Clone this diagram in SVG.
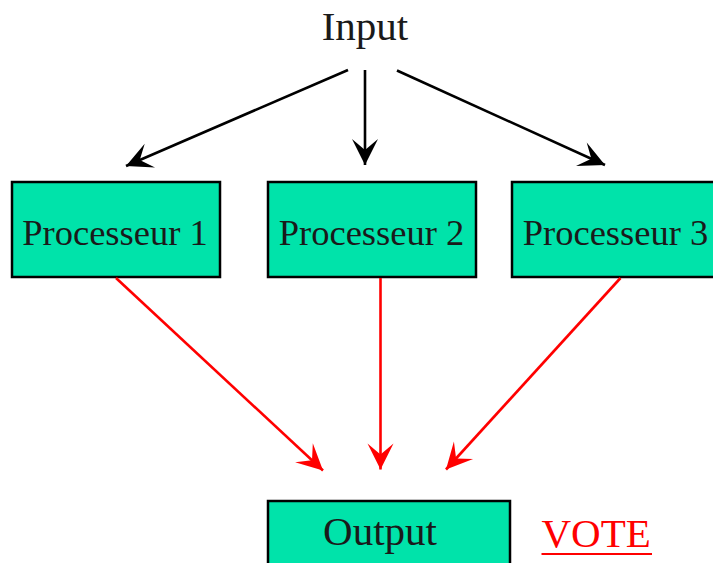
<svg xmlns="http://www.w3.org/2000/svg" width="713" height="563" viewBox="0 0 713 563">
  <style>
    .box { fill: #00e3aa; stroke: #000; stroke-width: 2.5; }
    .lbl { font-family: "Liberation Serif", "Times New Roman", serif; fill: #1a1a1a; text-anchor: middle; }
    .proc { font-size: 36.5px; }
    .big { font-size: 41px; }
    .in { stroke: #000; stroke-width: 2.6; fill: none; marker-end: url(#headK); }
    .out { stroke: #ff0000; stroke-width: 2.6; fill: none; marker-end: url(#headR); }
  </style>
  <defs>
    <marker id="headK" viewBox="-28 -15 30 30" refX="0" refY="0" markerWidth="30" markerHeight="30" markerUnits="userSpaceOnUse" orient="auto">
      <path d="M0,0 L-26,-13 L-15,0 L-26,13 Z" fill="#000"/>
    </marker>
    <marker id="headR" viewBox="-28 -15 30 30" refX="0" refY="0" markerWidth="30" markerHeight="30" markerUnits="userSpaceOnUse" orient="auto">
      <path d="M0,0 L-26,-13 L-15,0 L-26,13 Z" fill="#ff0000"/>
    </marker>
  </defs>

  <rect width="713" height="563" fill="#fff"/>

  <g id="input">
    <text class="lbl big" x="365" y="40">Input</text>
  </g>

  <g id="proc1">
    <rect class="box" x="12" y="182" width="208" height="95"/>
    <text class="lbl proc" x="115" y="244.5">Processeur 1</text>
  </g>
  <g id="proc2">
    <rect class="box" x="268" y="182" width="208" height="95"/>
    <text class="lbl proc" x="371.5" y="244.5">Processeur 2</text>
  </g>
  <g id="proc3">
    <rect class="box" x="512" y="182" width="210" height="95"/>
    <text class="lbl proc" x="615.5" y="244.5">Processeur 3</text>
  </g>

  <g id="output">
    <rect class="box" x="268" y="501" width="242" height="80"/>
    <text class="lbl big" x="380" y="545">Output</text>
  </g>

  <g id="vote">
    <text x="541.5" y="546.5" font-family="'Liberation Serif', 'Times New Roman', serif" font-size="41" fill="#ff0000">VOTE</text>
    <line x1="541.5" y1="554" x2="652" y2="554" stroke="#ff0000" stroke-width="2"/>
  </g>

  <g id="connectors">
    <line class="in" x1="348" y1="70" x2="126" y2="166"/>
    <line class="in" x1="365" y1="70" x2="365" y2="165"/>
    <line class="in" x1="397" y1="70.5" x2="605" y2="165"/>
    <line class="out" x1="116" y1="278" x2="323" y2="470.5"/>
    <line class="out" x1="380.5" y1="278" x2="380.5" y2="469.5"/>
    <line class="out" x1="620.5" y1="278" x2="446" y2="469.5"/>
  </g>
</svg>
